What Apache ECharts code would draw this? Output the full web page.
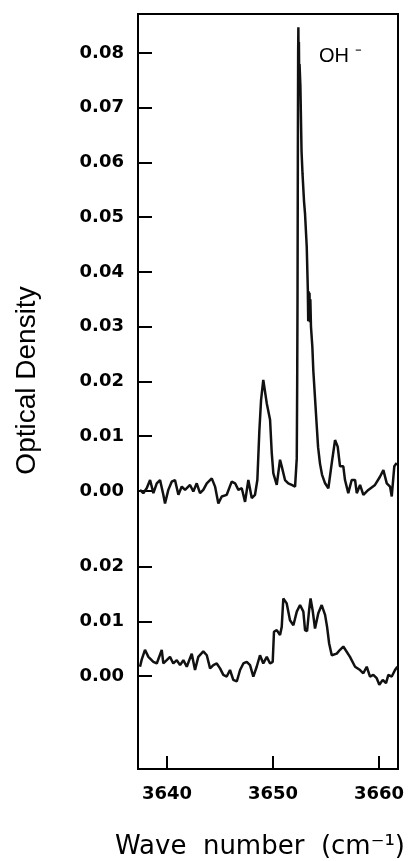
<!DOCTYPE html>
<html>
<head>
<meta charset="utf-8">
<script src="https://cdn.jsdelivr.net/npm/echarts@6/dist/echarts.min.js"></script>
<style>html,body{margin:0;padding:0;background:#fff}#c{width:409px;height:861px}</style>
</head>
<body>
<div id="c"></div>
<script>
// Upper spectrum (wave number, optical density)
const topWave = [3637.45,3637.76,3638.08,3638.40,3638.71,3639.03,3639.34,3639.65,3639.81,3640.12,3640.44,3640.75,3641.07,3641.39,3641.70,3642.17,3642.48,3642.80,3643.11,3643.42,3643.75,3644.22,3644.53,3644.84,3645.16,3645.63,3646.10,3646.42,3646.73,3647.05,3647.36,3647.67,3647.99,3648.30,3648.52,3648.71,3648.87,3649.08,3649.41,3649.72,3649.88,3650.03,3650.35,3650.66,3650.82,3651.13,3651.44,3651.76,3652.08,3652.24,3652.28,3652.31,3652.34,3652.37,3652.39,3652.42,3652.44,3652.47,3652.50,3652.58,3652.69,3652.78,3652.92,3653.02,3653.18,3653.28,3653.32,3653.36,3653.40,3653.44,3653.48,3653.52,3653.58,3653.71,3653.80,3653.96,3654.12,3654.25,3654.43,3654.62,3654.91,3655.22,3655.54,3655.85,3656.10,3656.32,3656.63,3656.79,3657.10,3657.42,3657.74,3657.90,3658.21,3658.52,3658.99,3659.62,3660.09,3660.41,3660.73,3661.04,3661.20,3661.44,3661.67];
const topOD = [0.0002,-0.0004,0.0005,0.0020,-0.0004,0.0014,0.0020,-0.0007,-0.0023,0.0002,0.0017,0.0020,-0.0007,0.0008,0.0002,0.0011,-0.0001,0.0014,-0.0004,0.0002,0.0014,0.0023,0.0008,-0.0023,-0.0010,-0.0007,0.0017,0.0014,0.0002,0.0005,-0.0020,0.0020,-0.0013,-0.0007,0.0020,0.0110,0.0166,0.0203,0.0160,0.0130,0.0069,0.0032,0.0011,0.0057,0.0045,0.0020,0.0014,0.0011,0.0008,0.0060,0.0200,0.0350,0.0600,0.0800,0.0847,0.0760,0.0820,0.0750,0.0780,0.0740,0.0620,0.0580,0.0530,0.0506,0.0446,0.0370,0.0310,0.0365,0.0310,0.0362,0.0308,0.0350,0.0300,0.0263,0.0220,0.0170,0.0120,0.0080,0.0050,0.0030,0.0014,0.0005,0.0051,0.0093,0.0081,0.0045,0.0045,0.0020,-0.0004,0.0020,0.0020,-0.0004,0.0011,-0.0007,0.0002,0.0011,0.0026,0.0038,0.0014,0.0008,-0.0010,0.0045,0.0051];

// Lower spectrum (wave number, optical density)
const botWave = [3637.45,3637.61,3637.92,3638.24,3638.71,3639.03,3639.50,3639.65,3639.97,3640.28,3640.59,3640.92,3641.23,3641.54,3641.86,3642.33,3642.64,3642.95,3643.42,3643.75,3644.06,3644.37,3644.69,3645.00,3645.31,3645.63,3645.94,3646.25,3646.58,3646.73,3646.89,3647.20,3647.52,3647.83,3648.14,3648.46,3648.77,3649.08,3649.41,3649.72,3649.97,3650.09,3650.35,3650.66,3650.82,3650.97,3651.29,3651.60,3651.92,3652.24,3652.55,3652.86,3653.02,3653.21,3653.40,3653.54,3653.73,3653.96,3654.27,3654.59,3654.91,3655.10,3655.29,3655.54,3656.01,3656.32,3656.63,3656.79,3657.26,3657.74,3658.21,3658.52,3658.84,3659.15,3659.46,3659.78,3660.03,3660.35,3660.66,3660.88,3661.20,3661.51,3661.73];
const botOD = [0.0017,0.0030,0.0048,0.0035,0.0026,0.0023,0.0048,0.0023,0.0029,0.0035,0.0023,0.0029,0.0020,0.0029,0.0017,0.0041,0.0011,0.0035,0.0045,0.0038,0.0014,0.0020,0.0023,0.0014,0.0002,-0.0001,0.0011,-0.0007,-0.0010,-0.0010,0.0011,0.0023,0.0026,0.0020,-0.0001,0.0017,0.0038,0.0023,0.0035,0.0023,0.0026,0.0081,0.0084,0.0075,0.0090,0.0142,0.0133,0.0102,0.0093,0.0118,0.0130,0.0118,0.0084,0.0082,0.0120,0.0142,0.0121,0.0087,0.0115,0.0130,0.0112,0.0090,0.0060,0.0038,0.0041,0.0048,0.0054,0.0052,0.0035,0.0017,0.0011,0.0005,0.0017,-0.0001,0.0002,-0.0004,-0.0016,-0.0007,-0.0013,0.0002,-0.0001,0.0011,0.0017];

// Tick labels
const xTicks = [3640, 3650, 3660];
const topTicks = [0.00, 0.01, 0.02, 0.03, 0.04, 0.05, 0.06, 0.07, 0.08];
const botTicks = [0.00, 0.01, 0.02];

const xTitle = 'Wave  number  (cm\u207B\u00B9)';
const yTitle = 'Optical Density';
const peakLabel = 'OH \u207B';

const chart = echarts.init(document.getElementById('c'), null, {renderer: 'canvas'});
const zip = (a, b) => a.map((v, i) => [v, b[i]]);
const gridRect = {left: 138, top: 14, width: 260, height: 755, outerBoundsMode: 'none', containLabel: false};
const xMin = 3637.26, xMax = 3661.79;
const labelFont = {fontFamily: 'DejaVu Sans', fontWeight: 'bold', fontSize: 18, color: '#000'};

function yAxisCfg(gridIndex, min, max, ticks, extra) {
  return Object.assign({
    type: 'value', gridIndex, min, max, position: 'left',
    axisLine: {show: true, onZero: false, lineStyle: {color: '#000', width: 2}},
    axisTick: {show: true, inside: true, length: 14, lineStyle: {color: '#000', width: 2}, customValues: ticks},
    axisLabel: Object.assign({show: true, margin: 14, customValues: ticks, formatter: v => Number(v).toFixed(2)}, labelFont),
    splitLine: {show: false}
  }, extra || {});
}

chart.setOption({
  animation: false,
  backgroundColor: '#fff',
  grid: [
    Object.assign({show: true, borderColor: '#000', borderWidth: 2, backgroundColor: 'transparent'}, gridRect),
    Object.assign({show: false}, gridRect)
  ],
  xAxis: [
    {
      type: 'value', gridIndex: 0, min: xMin, max: xMax,
      axisLine: {show: true, onZero: false, lineStyle: {color: '#000', width: 2}},
      axisTick: {show: true, inside: true, length: 13, lineStyle: {color: '#000', width: 2}, customValues: xTicks},
      axisLabel: Object.assign({show: true, margin: 16, customValues: xTicks, formatter: v => String(v)}, labelFont),
      splitLine: {show: false},
      name: xTitle, nameLocation: 'middle', nameGap: 65,
      nameTextStyle: {fontFamily: 'DejaVu Sans', fontSize: 26, color: '#000', padding: [0, 16, 0, 0]}
    },
    {type: 'value', gridIndex: 1, min: xMin, max: xMax, show: false}
  ],
  yAxis: [
    yAxisCfg(0, -0.05078, 0.08712, topTicks, {
      name: yTitle, nameLocation: 'middle', nameGap: 97,
      nameTextStyle: {fontFamily: 'Liberation Sans', fontSize: 28, color: '#000', padding: [0, 0, 0, 22]}
    }),
    yAxisCfg(1, -0.01703, 0.12125, botTicks)
  ],
  graphic: [
    {type: 'text', left: 319, top: 46, style: {text: peakLabel, fontFamily: 'Liberation Sans', fontSize: 20, fill: '#000'}}
  ],
  series: [
    {type: 'line', xAxisIndex: 0, yAxisIndex: 0, data: zip(topWave, topOD), showSymbol: false, clip: true,
     lineStyle: {color: '#111', width: 2.5}, itemStyle: {color: '#111'}},
    {type: 'line', xAxisIndex: 1, yAxisIndex: 1, data: zip(botWave, botOD), showSymbol: false, clip: true,
     lineStyle: {color: '#111', width: 2.5}, itemStyle: {color: '#111'}}
  ]
});
</script>
</body>
</html>
